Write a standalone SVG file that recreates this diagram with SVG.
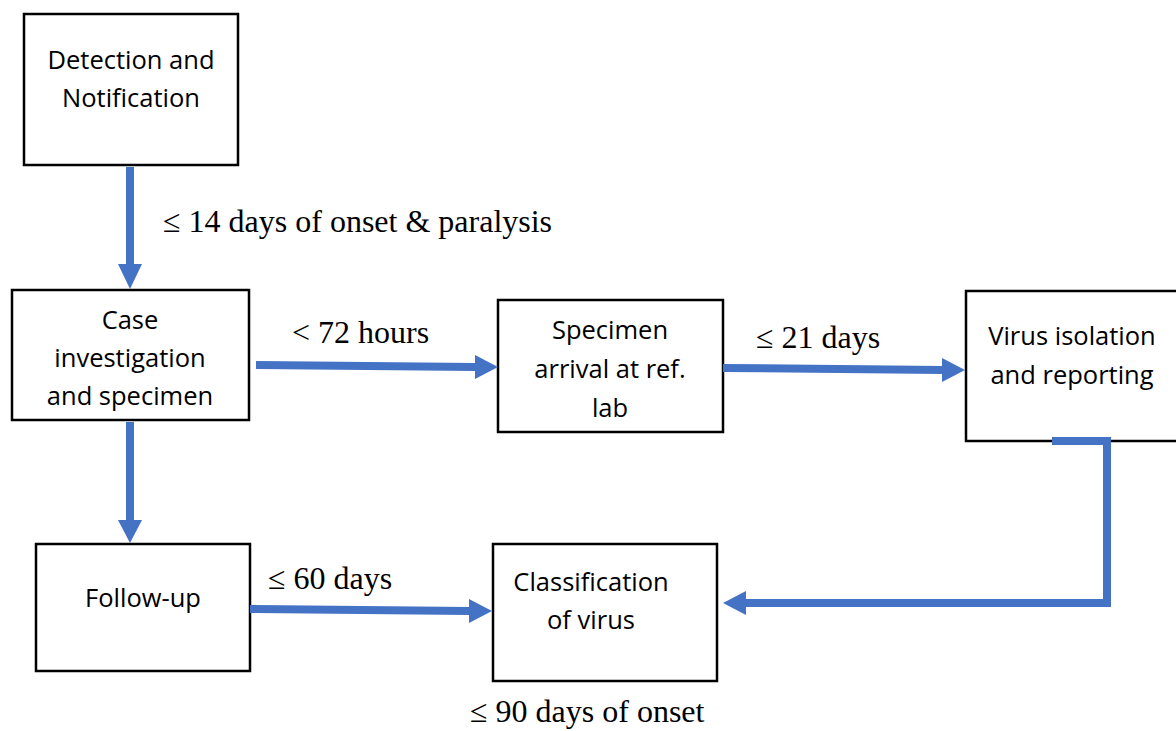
<svg xmlns="http://www.w3.org/2000/svg" width="1176" height="731" viewBox="0 0 1176 731">
<style>
.box{fill:#fff;stroke:#000;stroke-width:2.5}
.nt{font-family:"Open Sans","Liberation Sans",sans-serif;font-size:25.5px;fill:#000;text-anchor:middle}
.lb{font-family:"Liberation Serif","Times New Roman",serif;font-size:32px;fill:#000}
.ar{fill:none;stroke:#4472C4;stroke-width:8}
</style>
<rect width="1176" height="731" fill="#fff"/>
<g id="detection"><rect class="box" x="24" y="14" width="214" height="151"/><text class="nt" x="131" y="69">Detection and</text><text class="nt" x="131" y="107">Notification</text></g>
<g id="case"><rect class="box" x="12" y="290" width="237" height="130"/><text class="nt" x="130" y="329">Case</text><text class="nt" x="130" y="367">investigation</text><text class="nt" x="130" y="405">and specimen</text></g>
<g id="specimen"><rect class="box" x="498" y="300" width="225" height="132"/><text class="nt" x="610" y="339">Specimen</text><text class="nt" x="610" y="378">arrival at ref.</text><text class="nt" x="610" y="417">lab</text></g>
<g id="virus"><rect class="box" x="966" y="291" width="212" height="150"/><text class="nt" x="1072" y="345">Virus isolation</text><text class="nt" x="1072" y="384">and reporting</text></g>
<g id="followup"><rect class="box" x="36" y="544" width="214" height="127"/><text class="nt" x="143" y="607">Follow-up</text></g>
<g id="classification"><rect class="box" x="493" y="544" width="224" height="137"/><text class="nt" x="591" y="591">Classification</text><text class="nt" x="591" y="629">of virus</text></g>
<g id="connectors">
<path class="ar" d="M130,167 V264"/><path d="M118,264 H142 L130,289 Z" fill="#4472C4"/>
<path class="ar" d="M256,365 L476,367"/><path d="M475,355 L498,367 L475,379 Z" fill="#4472C4"/>
<path class="ar" d="M723,368 L943,370"/><path d="M942,358 L965,370 L942,382 Z" fill="#4472C4"/>
<path class="ar" d="M130,422 V520"/><path d="M118,520 H142 L130,543 Z" fill="#4472C4"/>
<path class="ar" d="M250,609 L470,611"/><path d="M469,599 L492,611 L469,623 Z" fill="#4472C4"/>
<path class="ar" d="M1052,441 H1107 V603 H745"/><path d="M746,591 L723,603 L746,615 Z" fill="#4472C4"/>
</g>
<g id="labels">
<text class="lb" x="163" y="232">≤ 14 days of onset &amp; paralysis</text>
<text class="lb" x="292" y="343">&lt; 72 hours</text>
<text class="lb" x="756" y="348">≤ 21 days</text>
<text class="lb" x="268" y="589">≤ 60 days</text>
<text class="lb" x="470" y="722">≤ 90 days of onset</text>
</g>
</svg>
